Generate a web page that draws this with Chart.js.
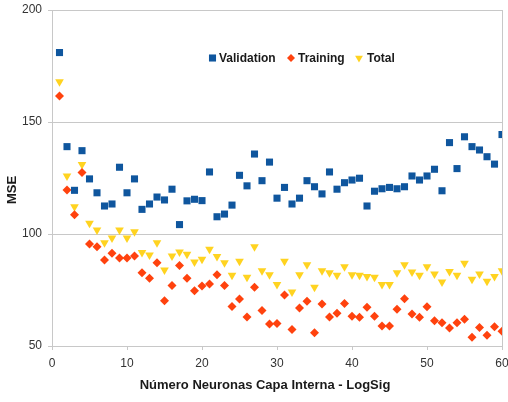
<!DOCTYPE html>
<html><head><meta charset="utf-8">
<script src="https://cdn.jsdelivr.net/npm/chart.js@4/dist/chart.umd.min.js"></script>
<style>html,body{margin:0;padding:0;background:#fff}#wrap{width:508px;height:402px}</style>
</head><body><div id="wrap"><canvas id="c" width="508" height="402"></canvas></div>
<script>
const neurons = Array.from({length:60},(_,i)=>i+1);
const validation = [181,139,119.5,137.2,124.6,118.4,112.5,113.4,129.8,118.4,124.6,111,113.4,116.5,115.2,120,104.2,114.8,115.5,114.9,127.7,107.7,108.9,112.9,126.2,121.5,135.7,123.8,132.1,116,120.8,113.4,116,123.8,121.1,117.9,127.7,120,122.9,124.1,124.9,112.5,119.1,120.2,120.8,120.2,121.1,125.9,124.1,125.9,128.9,119.3,140.8,129.2,143.4,139,137.5,134.5,131.2,144.4];
const training = [161.6,119.6,108.6,127.4,95.5,94.3,88.4,91.4,89.3,89.3,90.2,82.7,80.2,87.2,70.2,77,85.9,80.2,74.7,76.8,77.7,81.8,77,67.6,71,63,76.2,65.8,59.8,60.1,72.8,57.4,67,70,55.9,68.8,63,64.6,69,63.3,62.8,67.3,63.3,58.9,58.9,66.4,71.1,64.3,62.8,67.5,61.3,60.4,58,60.4,61.9,53.9,58.3,54.8,58.6,56.6];
const total = [168,125.9,112.2,131,104.8,101.8,96.1,98.2,101.8,98.2,101,91.7,90.6,96.1,83.9,90.2,92,91,87.5,88.7,93.2,89.9,87.2,81.6,87.8,80.7,94.3,83.6,81.8,77.4,87.8,74.1,81.8,86.3,76.2,83.6,82.7,81.6,85.4,81.8,81.6,81,80.7,77.4,77.4,82.7,86.3,83,81.6,85.4,82.1,78.6,83.3,81.6,86.9,79.8,82.1,78.9,81,83.6];
const seriesNames = ['Validation','Training','Total'];
const xTitle = 'Número Neuronas Capa Interna - LogSig';
const yTitle = 'MSE';

const pts = arr => arr.map((v,i)=>({x:neurons[i], y:v}));
const FONT = '"Liberation Sans", Arial, sans-serif';

const overlay = {
  id:'overlay',
  beforeDatasetsDraw(chart){
    const ctx = chart.ctx, a = chart.chartArea;
    ctx.save();
    ctx.strokeStyle = '#c8c8c8'; ctx.lineWidth = 1;
    ctx.beginPath(); ctx.moveTo(Math.round(a.right)+0.5,a.top); ctx.lineTo(Math.round(a.right)+0.5,a.bottom); ctx.stroke();
    ctx.restore();
  },
  afterDraw(chart){
    const ctx = chart.ctx;
    ctx.save();
    const items = [{x:212.5,tx:219},{x:291,tx:298},{x:359,tx:367}];
    chart.data.datasets.forEach((ds,i)=>{
      const it = items[i];
      ctx.fillStyle = ds.backgroundColor; ctx.strokeStyle = ds.backgroundColor;
      Chart.helpers.drawPoint(ctx,{pointStyle:ds.pointStyle,radius:ds.legendRadius,rotation:ds.rotation||0,borderWidth:0},it.x,58);
      ctx.fillStyle = '#1a1a1a';
      ctx.font = 'bold 12px '+FONT;
      ctx.textBaseline = 'middle'; ctx.textAlign='left';
      ctx.fillText(ds.label,it.tx,58.5);
    });
    ctx.fillStyle = '#1a1a1a';
    ctx.font = 'bold 13px '+FONT;
    ctx.textAlign='center'; ctx.textBaseline='middle';
    ctx.fillText(xTitle,265,385);
    ctx.translate(12,190); ctx.rotate(-Math.PI/2);
    ctx.fillText(yTitle,0,0);
    ctx.restore();
  }
};

new Chart(document.getElementById('c'),{
  type:'scatter',
  data:{datasets:[
    {label:seriesNames[0],data:pts(validation),pointStyle:'rect',pointRadius:5,legendRadius:5,backgroundColor:'#0f569e',borderWidth:0,pointHoverRadius:5},
    {label:seriesNames[1],data:pts(training),pointStyle:'rectRot',pointRadius:4.5,legendRadius:4,backgroundColor:'#ff420e',borderWidth:0,pointHoverRadius:4.5},
    {label:seriesNames[2],data:pts(total),pointStyle:'triangle',pointRadius:5,legendRadius:4.5,rotation:180,pointRotation:180,backgroundColor:'#ffd320',borderWidth:0,pointHoverRadius:5}
  ]},
  options:{
    responsive:false,animation:false,
    layout:{padding:{top:10,right:6,left:0,bottom:0}},
    plugins:{legend:{display:false},tooltip:{enabled:false}},
    scales:{
      x:{type:'linear',min:0,max:60,
        ticks:{stepSize:10,color:'#333',font:{family:FONT,size:12},padding:6,maxRotation:0},
        grid:{drawOnChartArea:false,color:'#c8c8c8',tickColor:'#c8c8c8',tickLength:4,lineWidth:1},
        border:{color:'#c8c8c8'},
        afterFit(s){s.height=56;s.paddingLeft=0;s.paddingRight=0;}
      },
      y:{type:'linear',min:50,max:200,
        ticks:{stepSize:50,color:'#333',font:{family:FONT,size:12},padding:6},
        grid:{color:'#c8c8c8',tickColor:'#c8c8c8',tickLength:4,lineWidth:1},
        border:{color:'#c8c8c8'},
        afterFit(s){s.width=52;s.paddingTop=0;s.paddingBottom=0;}
      }
    }
  },
  plugins:[overlay]
});
</script></body></html>
